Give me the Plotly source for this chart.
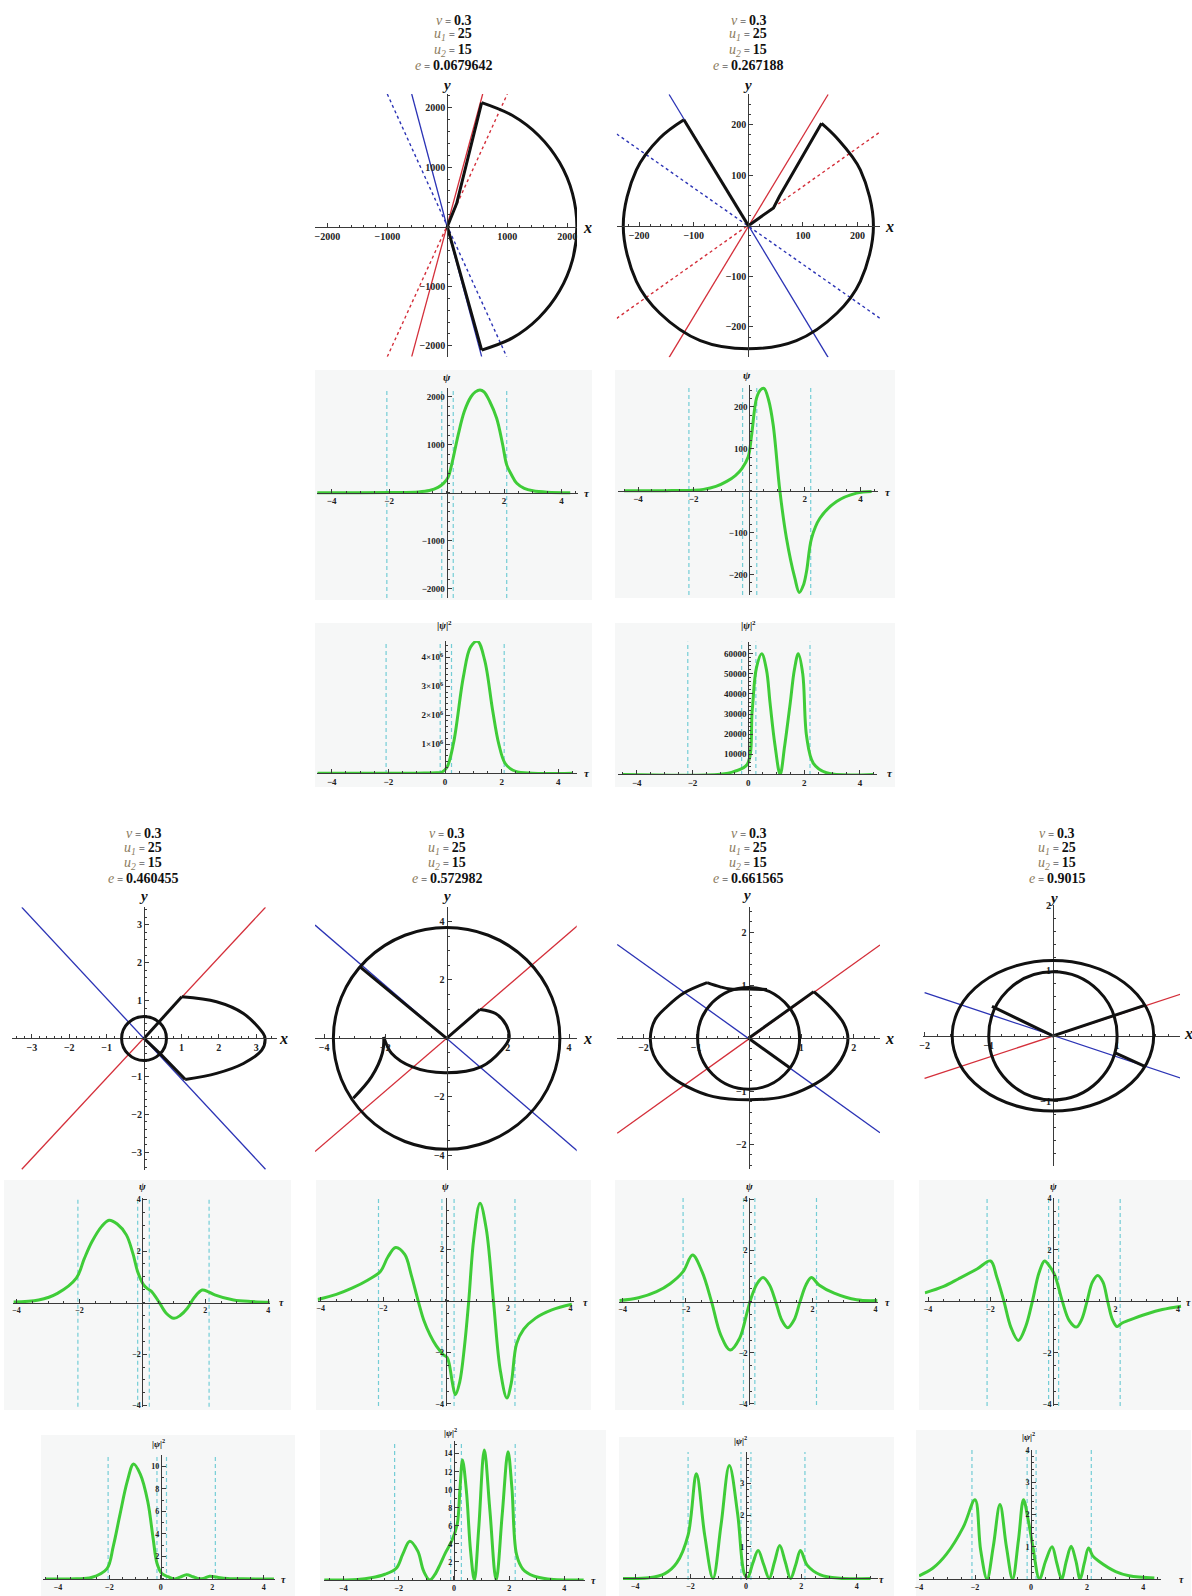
import numpy as np
import plotly.graph_objects as go

W, H = 1192, 1596
SERIF = "Liberation Serif"
RED, BLUE, BLACK = "#d42f3a", "#2b33b5", "#111111"
GREEN, CYAN, AX, LBL = "#3fcc38", "#74cdd6", "#3a3a3a", "#8b7b5e"

# ---------------- parameters ----------------
v_val, u1_val, u2_val = "0.3", "25", "15"
e_vals = ["0.0679642", "0.267188", "0.460455", "0.572982", "0.661565", "0.9015"]

# ---------------- phase portraits ----------------
# case 1  e=0.0679642
c1_red = ([-593, 590], [-2181, 2227])
c1_blue = ([-593, 573], [2227, -2181])
c1_red_dot = ([-1000, 1000], [-2181, 2226])
c1_blue_dot = ([-1000, 990], [2226, -2181])
c1_seg_x = [573, 0, 157, 573]
c1_seg_y = [-2070, 0, 392, 2083]
c1_arc_x = [573, 1080, 1527, 1870, 2086, 2160, 2086, 1870, 1527, 1080, 573]
c1_arc_y = [2083, 1870, 1527, 1080, 560, 0, -560, -1080, -1527, -1870, -2070]

# case 2  e=0.267188
c2_red = ([-145, 146], [-260, 259])
c2_blue = ([-145, 146], [259, -260])
c2_red_dot = ([-241, 241], [-183, 185])
c2_blue_dot = ([-241, 241], [181, -183])
c2_seg1_x, c2_seg1_y = [-118, 0], [209, 0]
c2_seg2_x, c2_seg2_y = [0, 46, 57, 134], [0, 35, 58, 202]
c2_arc_x = [-118, -162, -205, -229, -205, -162, -88, 0, 88, 162, 205, 229, 205, 162, 134]
c2_arc_y = [209, 173, 110, 0, -110, -173, -227, -243, -227, -173, -110, 0, 110, 173, 202]

# case 3  e=0.460455
c3_red = ([-3.27, 3.25], [-3.45, 3.46])
c3_blue = ([-3.27, 3.25], [3.46, -3.45])
c3_circle = (0.60, 0.58)
c3_seg1_x, c3_seg1_y = [0, 1.01], [0, 1.10]
c3_seg2_x, c3_seg2_y = [0, 0.45, 1.1], [0, -0.42, -1.08]
c3_arc_x = [1.01, 1.94, 2.66, 3.19, 3.24, 3.15, 2.66, 1.94, 1.1]
c3_arc_y = [1.10, 0.97, 0.66, 0.13, 0, -0.31, -0.66, -0.92, -1.08]

# case 4  e=0.572982
c4_red = ([-4.3, 4.3], [-3.88, 3.88])
c4_blue = ([-4.3, 4.3], [3.88, -3.88])
c4_circle = (3.7, 3.8)
c4_seg_x, c4_seg_y = [-2.83, 0, 1.09], [2.45, 0, 0.99]
c4_arc_x = [1.09, 1.6, 1.95, 2.04, 1.8, 1.14, -0.05, -1.14, -1.8, -2.02, -2.05]
c4_arc_y = [0.99, 0.85, 0.45, 0, -0.4, -0.97, -1.18, -0.97, -0.51, -0.06, 0.05]
c4_tail_x = [-2.05, -2.1, -2.45, -3.05]
c4_tail_y = [0.05, -0.51, -1.31, -2.05]

# case 5  e=0.661565
c5_red = ([-2.5, 2.5], [-1.79, 1.76])
c5_blue = ([-2.5, 2.5], [1.77, -1.78])
c5_circle = (0.97, 0.96)
c5_seg1_x, c5_seg1_y = [0, 1.24], [0, 0.88]
c5_seg2_x, c5_seg2_y = [0, 0.79], [0, -0.56]
c5_outer_x = [1.24, 1.55, 1.81, 1.89, 1.81, 1.55, 1.17, 0.67, 0, -0.67, -1.17, -1.55, -1.81, -1.87, -1.78, -1.55, -1.24, -0.79]
c5_outer_y = [0.88, 0.6, 0.28, 0, -0.31, -0.66, -0.91, -1.1, -1.16, -1.1, -0.91, -0.66, -0.31, 0, 0.35, 0.6, 0.85, 1.05]
c5_top_x = [-0.79, -0.54, -0.35, 0, 0.35]
c5_top_y = [1.05, 0.97, 0.93, 0.93, 0.92]

# case 6  e=0.9015
c6_red = ([-2.0, 2.0], [-0.65, 0.64])
c6_blue = ([-2.0, 2.0], [0.66, -0.65])
c6_outer = (1.57, 1.15)
c6_inner = (1.0, 0.98)
c6_seg1_x, c6_seg1_y = [-0.95, 0, 1.44], [0.45, 0, 0.47]
c6_seg2_x, c6_seg2_y = [0.97, 1.44], [-0.26, -0.47]

# ---------------- psi(tau) ----------------
t1 = [-4.5, -3, -2, -1.5, -1, -0.6, -0.3, -0.1, 0.05, 0.2, 0.4, 0.62, 0.85, 1.0, 1.16, 1.3, 1.5, 1.74, 1.95, 2.09, 2.25, 2.44, 2.7, 3.0, 3.5, 4.3]
psi1 = [0, 0, 2, 5, 15, 45, 110, 200, 320, 650, 1200, 1700, 2000, 2100, 2140, 2100, 1900, 1550, 1000, 580, 380, 195, 90, 40, 10, 0]
t2 = [-4.5, -3, -2, -1.65, -1.2, -0.81, -0.5, -0.27, -0.04, 0.08, 0.26, 0.4, 0.53, 0.7, 0.86, 1.1, 1.34, 1.64, 1.8, 1.95, 2.06, 2.24, 2.54, 3.14, 3.86, 4.4]
psi2 = [0, 0, 1, 3, 10, 22, 36, 52, 80, 130, 220, 240, 244, 215, 157, 0, -114, -209, -243, -225, -193, -114, -66, -26, -6, -2]
tA = [-4.1, -3.3, -2.7, -2.1, -1.85, -1.6, -1.3, -1.06, -0.8, -0.51, -0.3, -0.15, 0.04, 0.15, 0.28, 0.52, 0.75, 1.0, 1.2, 1.43, 1.65, 1.9, 2.1, 2.3, 2.9, 3.5, 4.05]
psiA = [0.02, 0.1, 0.36, 0.95, 1.7, 2.37, 2.95, 3.2, 3.05, 2.63, 1.9, 1.2, 0.69, 0.55, 0.45, 0.04, -0.4, -0.61, -0.5, -0.22, 0.2, 0.49, 0.42, 0.3, 0.1, 0.04, 0.01]
tB = [-4.1, -3.5, -3.0, -2.5, -2.09, -1.85, -1.6, -1.31, -1.1, -0.88, -0.7, -0.5, -0.3, -0.07, 0.05, 0.12, 0.22, 0.31, 0.45, 0.6, 0.74, 0.9, 1.1, 1.3, 1.53, 1.75, 1.96, 2.1, 2.27, 2.5, 2.88, 3.4, 4.04]
psiB = [0.05, 0.25, 0.49, 0.8, 1.14, 1.7, 2.07, 1.8, 1.0, 0, -0.75, -1.32, -1.75, -2.09, -2.2, -2.48, -3.2, -3.64, -3.15, -1.8, 0, 2.4, 3.79, 2.8, 0, -2.7, -3.77, -3.2, -1.67, -1.1, -0.67, -0.35, -0.13]
tC = [-4.1, -3.5, -2.93, -2.5, -2.09, -1.79, -1.49, -1.19, -0.9, -0.6, -0.3, -0.06, 0.06, 0.25, 0.44, 0.64, 0.84, 1.03, 1.22, 1.42, 1.61, 1.8, 1.97, 2.21, 2.69, 3.4, 4.06]
psiC = [0.04, 0.15, 0.39, 0.7, 1.17, 1.82, 1.17, 0, -1.3, -1.89, -1.43, -0.39, 0.13, 0.7, 0.94, 0.66, 0, -0.72, -1.02, -0.72, 0, 0.66, 0.94, 0.65, 0.33, 0.07, 0.04]
tD = [-4.1, -3.5, -3.02, -2.42, -2.0, -1.8, -1.57, -1.35, -1.11, -0.88, -0.66, -0.45, -0.27, -0.1, 0.06, 0.3, 0.52, 0.75, 0.92, 1.09, 1.26, 1.43, 1.6, 1.75, 1.9, 2.05, 2.2, 2.42, 3.02, 3.5, 4.1]
psiD = [0.33, 0.58, 0.88, 1.27, 1.57, 0.95, 0, -1.0, -1.52, -1.0, 0, 1.1, 1.57, 1.35, 1.01, 0, -0.75, -1.0, -0.7, 0, 0.75, 1.01, 0.75, 0, -0.7, -0.98, -0.85, -0.74, -0.48, -0.32, -0.19]

# ---------------- |psi|^2(tau) ----------------
s1_t = [-4.5, -1, -0.3, -0.1, 0.07, 0.3, 0.65, 0.9, 1.15, 1.4, 1.68, 1.9, 2.12, 2.4, 2.8, 4.5]
s1_v = [0, 0, 0.01e6, 0.04e6, 0.2e6, 1.03e6, 3.33e6, 4.35e6, 4.55e6, 3.9e6, 2.18e6, 1.0e6, 0.34e6, 0.1e6, 0.01e6, 0]
s2_t = [-4.5, -1, -0.5, -0.04, 0.14, 0.29, 0.48, 0.65, 0.78, 0.95, 1.14, 1.3, 1.5, 1.65, 1.79, 1.95, 2.09, 2.33, 2.8, 4.5]
s2_v = [0, 100, 1500, 5000, 32000, 53000, 60000, 52000, 35300, 15000, 0, 14000, 35300, 52000, 60000, 50000, 18700, 5500, 800, 0]
sA_t = [-4.5, -3.3, -2.7, -2.1, -1.85, -1.6, -1.3, -1.06, -0.8, -0.51, -0.3, -0.15, 0.04, 0.28, 0.52, 0.75, 1.0, 1.25, 1.43, 1.65, 1.9, 2.2, 2.6, 3.2, 4.4]
sA_v = [0, 0.01, 0.13, 0.9, 2.9, 5.6, 8.7, 10.2, 9.3, 6.9, 3.6, 1.4, 0.48, 0.2, 0, 0.16, 0.37, 0.2, 0.05, 0.04, 0.25, 0.15, 0.05, 0.01, 0]
sB_t = [-4.7, -3.5, -3.0, -2.5, -2.09, -1.85, -1.6, -1.31, -1.1, -0.88, -0.7, -0.5, -0.3, -0.07, 0.12, 0.22, 0.31, 0.45, 0.6, 0.74, 0.9, 1.1, 1.3, 1.53, 1.75, 1.96, 2.1, 2.27, 2.5, 2.88, 3.4, 4.7]
sB_v = [0, 0.06, 0.24, 0.64, 1.3, 2.9, 4.3, 3.2, 1.0, 0, 0.56, 1.74, 3.06, 4.4, 6.2, 10.2, 13.3, 9.9, 3.3, 0, 5.8, 14.4, 7.8, 0, 7.3, 14.2, 10.2, 2.8, 1.2, 0.45, 0.12, 0]
sC_t = [-4.5, -3.5, -2.93, -2.5, -2.09, -1.79, -1.49, -1.19, -0.9, -0.6, -0.3, -0.06, 0.06, 0.25, 0.44, 0.64, 0.84, 1.03, 1.22, 1.42, 1.61, 1.8, 1.97, 2.21, 2.69, 3.4, 4.5]
sC_v = [0, 0.02, 0.15, 0.49, 1.37, 3.31, 1.37, 0, 1.69, 3.57, 2.04, 0.15, 0.02, 0.49, 0.88, 0.44, 0, 0.52, 1.04, 0.52, 0, 0.44, 0.88, 0.42, 0.11, 0.005, 0]
sD_t = [-4.0, -3.5, -3.02, -2.42, -2.0, -1.8, -1.57, -1.35, -1.11, -0.88, -0.66, -0.45, -0.27, -0.1, 0.06, 0.3, 0.52, 0.75, 0.92, 1.09, 1.26, 1.43, 1.6, 1.75, 1.9, 2.05, 2.2, 2.42, 3.02, 3.5, 4.4]
sD_v = [0.1, 0.34, 0.77, 1.61, 2.46, 0.9, 0, 1.0, 2.31, 1.0, 0, 1.21, 2.46, 1.82, 1.02, 0, 0.56, 1.0, 0.49, 0, 0.56, 1.02, 0.56, 0, 0.49, 0.96, 0.72, 0.55, 0.23, 0.1, 0.03]

# dashed reference lines (tau)
dash1 = [-2.08, -0.17, 0.23, 2.09]
dash2 = [-2.17, -0.24, 0.27, 2.21]
dashA = [-2.05, -0.15, 0.22, 2.12]
dashB = [-2.15, -0.12, 0.27, 2.22]
dashC = [-2.09, -0.18, 0.18, 2.13]
dashD = [-2.11, -0.14, 0.18, 2.15]

# ---------------- figure machinery ----------------
layout = dict(width=W, height=H, autosize=False, margin=dict(l=0, r=0, t=0, b=0),
              paper_bgcolor="white", plot_bgcolor="rgba(0,0,0,0)", showlegend=False,
              shapes=[], annotations=[])
traces = []


def tl(vals):
    out = []
    for v in vals:
        s = str(int(v)) if float(v).is_integer() else str(v)
        out.append(s.replace("-", "\u2212"))
    return out


def minor_vals(r, step):
    a = np.arange(np.ceil(r[0] / step) * step, r[1] + 1e-9, step)
    return [round(float(x), 6) for x in a]


def panel(n, xpx, ypx, xr, yr, xt, yt, xm, ym, fs=10, xtt=None, ytt=None):
    xd = [xpx[0] / W, xpx[1] / W]
    yd = [1 - ypx[1] / H, 1 - ypx[0] / H]
    xpos = yd[0] + (0 - yr[0]) / (yr[1] - yr[0]) * (yd[1] - yd[0])
    ypos = xd[0] + (0 - xr[0]) / (xr[1] - xr[0]) * (xd[1] - xd[0])
    sfx = "" if n == 1 else str(n)
    tf = dict(family=SERIF, size=fs, color="#222", weight="bold")
    common = dict(showgrid=False, zeroline=False, showline=True, linecolor=AX, linewidth=1,
                  ticks="inside", ticklen=4, tickwidth=1, tickcolor=AX, tickmode="array",
                  tickfont=tf, anchor="free", fixedrange=True, automargin=False)
    layout["xaxis" + sfx] = dict(common, domain=xd, range=xr, position=xpos, tickvals=xt,
                                 ticktext=xtt or tl(xt),
                                 minor=dict(tickmode="array", tickvals=minor_vals(xr, xm),
                                            ticks="inside", ticklen=2, tickcolor=AX))
    layout["yaxis" + sfx] = dict(common, domain=yd, range=yr, position=ypos, tickvals=yt,
                                 ticktext=ytt or tl(yt),
                                 minor=dict(tickmode="array", tickvals=minor_vals(yr, ym),
                                            ticks="inside", ticklen=2, tickcolor=AX))
    return ("x" + sfx, "y" + sfx)


def line(ax, x, y, color, width, dash=None, spline=False):
    traces.append(go.Scatter(x=x, y=y, xaxis=ax[0], yaxis=ax[1], mode="lines", hoverinfo="skip",
                             line=dict(color=color, width=width, dash=dash,
                                       shape="spline" if spline else "linear", smoothing=1.0)))


def ellipse(ax, r):
    layout["shapes"].append(dict(type="circle", xref=ax[0], yref=ax[1], x0=-r[0], x1=r[0],
                                 y0=-r[1], y1=r[1], line=dict(color=BLACK, width=3)))


def vlines(ax, vals):
    for v in vals:
        layout["shapes"].append(dict(type="line", xref=ax[0], yref=ax[1] + " domain", x0=v, x1=v,
                                     y0=0, y1=1, layer="below",
                                     line=dict(color=CYAN, width=1.2, dash="4px,3px")))


def bg(box):
    layout["shapes"].append(dict(type="rect", xref="paper", yref="paper", layer="below",
                                 x0=box[0] / W, x1=box[2] / W, y0=1 - box[3] / H, y1=1 - box[1] / H,
                                 fillcolor="#f6f7f7", line=dict(width=0)))


def ann(xp, yp, text, size=14, color="#111", xanchor="center"):
    layout["annotations"].append(dict(x=xp / W, y=1 - yp / H, xref="paper", yref="paper", text=text,
                                      showarrow=False, xanchor=xanchor, yanchor="middle",
                                      font=dict(family=SERIF, size=size, color=color)))


def title(cx, ys, e):
    eq = "<span style='font-size:11px'> = </span>"
    lines = [f"<span style='color:{LBL}'><i>v</i></span>{eq}<b>{v_val}</b>",
             f"<span style='color:{LBL}'><i>u<sub>1</sub></i></span>{eq}<b>{u1_val}</b>",
             f"<span style='color:{LBL}'><i>u<sub>2</sub></i></span>{eq}<b>{u2_val}</b>",
             f"<span style='color:{LBL}'><i>e</i></span>{eq}<b>{e}</b>"]
    for y, t in zip(ys, lines):
        ann(cx, y, t, 14)


def phase_lines(ax, red, blue, red_dot=None, blue_dot=None):
    if red_dot:
        line(ax, red_dot[0], red_dot[1], RED, 1.4, "dot")
        line(ax, blue_dot[0], blue_dot[1], BLUE, 1.4, "dot")
    line(ax, red[0], red[1], RED, 1.3)
    line(ax, blue[0], blue[1], BLUE, 1.3)


PSI = "<b><i>\u03c8</i></b>"
PSI2 = "<b>|<i>\u03c8</i>|<sup>2</sup></b>"
TAU = "<b><i>\u03c4</i></b>"

# ---------------- backgrounds ----------------
for box in [(315, 370, 592, 600), (615, 370, 895, 598), (315, 623, 592, 787), (615, 623, 895, 787),
            (4, 1180, 291, 1410), (316, 1180, 591, 1410), (615, 1180, 894, 1410), (919, 1180, 1192, 1410),
            (41, 1435, 295, 1596), (320, 1430, 606, 1596), (619, 1437, 894, 1596), (916, 1430, 1191, 1596)]:
    bg(box)

# ---------------- top row ----------------
top_ys = [20.7, 35, 50.7, 66]
title(453, top_ys, e_vals[0])
title(748, top_ys, e_vals[1])

a1 = panel(1, (315, 577), (94, 356.7), [-2205, 2162], [-2181, 2227],
           [-2000, -1000, 1000, 2000], [-2000, -1000, 1000, 2000], 200, 200, 10)
phase_lines(a1, c1_red, c1_blue, c1_red_dot, c1_blue_dot)
line(a1, c1_seg_x, c1_seg_y, BLACK, 3)
line(a1, c1_arc_x, c1_arc_y, BLACK, 3, spline=True)
ann(446, 85, "<b><i>y</i></b>", 15)
ann(587, 228, "<b><i>x</i></b>", 16)

a2 = panel(2, (616.7, 880), (94, 357.3), [-241, 241], [-260, 260],
           [-200, -100, 100, 200], [-200, -100, 100, 200], 20, 20, 10)
phase_lines(a2, c2_red, c2_blue, c2_red_dot, c2_blue_dot)
line(a2, c2_seg1_x, c2_seg1_y, BLACK, 3)
line(a2, c2_seg2_x, c2_seg2_y, BLACK, 3)
line(a2, c2_arc_x, c2_arc_y, BLACK, 3, spline=True)
ann(747, 85, "<b><i>y</i></b>", 15)
ann(889, 227, "<b><i>x</i></b>", 16)

a3 = panel(3, (316.7, 578), (388, 598), [-4.52, 4.57], [-2194, 2181],
           [-4, -2, 2, 4], [-2000, -1000, 1000, 2000], 0.5, 200, 9)
vlines(a3, dash1)
line(a3, t1, psi1, GREEN, 3, spline=True)
ann(446.7, 377, PSI, 11)
ann(587, 492.7, TAU, 11)

a4 = panel(4, (618, 878), (385, 595), [-4.72, 4.63], [-249, 252],
           [-4, -2, 2, 4], [-200, -100, 100, 200], 0.5, 20, 9)
vlines(a4, dash2)
line(a4, t2, psi2, GREEN, 3, spline=True)
ann(746.7, 375, PSI, 11)
ann(888, 491.7, TAU, 11)

sci = ["1\u00d710<sup>6</sup>", "2\u00d710<sup>6</sup>", "3\u00d710<sup>6</sup>", "4\u00d710<sup>6</sup>"]
a5 = panel(5, (316.7, 576.7), (641, 774), [-4.53, 4.65], [-30000, 4.56e6],
           [-4, -2, 0, 2, 4], [1e6, 2e6, 3e6, 4e6], 0.5, 0.2e6, 9, ytt=sci)
vlines(a5, dash1)
line(a5, s1_t, s1_v, GREEN, 3, spline=True)
ann(445, 625, PSI2, 10)
ann(587, 773, TAU, 11)

a6 = panel(6, (618.3, 876.7), (641.7, 775), [-4.66, 4.6], [-300, 66000],
           [-4, -2, 0, 2, 4], [10000, 20000, 30000, 40000, 50000, 60000], 0.5, 2000, 9)
vlines(a6, dash2)
line(a6, s2_t, s2_v, GREEN, 3, spline=True)
ann(748.3, 625, PSI2, 10)
ann(890, 773, TAU, 11)

# ---------------- bottom block ----------------
bot_ys = [833.3, 848.3, 863.3, 878.3]
title(143.3, bot_ys, e_vals[2])
title(446.7, bot_ys, e_vals[3])
title(748.3, bot_ys, e_vals[4])
title(1056.7, bot_ys, e_vals[5])

a7 = panel(7, (11.7, 276.7), (907.3, 1170), [-3.54, 3.55], [-3.47, 3.46],
           [-3, -2, -1, 1, 2, 3], [-3, -2, -1, 1, 2, 3], 0.2, 0.2, 10)
phase_lines(a7, c3_red, c3_blue)
ellipse(a7, c3_circle)
line(a7, c3_seg1_x, c3_seg1_y, BLACK, 3)
line(a7, c3_seg2_x, c3_seg2_y, BLACK, 3)
line(a7, c3_arc_x, c3_arc_y, BLACK, 3, spline=True)
ann(143, 896, "<b><i>y</i></b>", 15)
ann(283.3, 1038.3, "<b><i>x</i></b>", 16)

a8 = panel(8, (315, 576.7), (907.3, 1170), [-4.3, 4.25], [-4.51, 4.49],
           [-4, -2, 2, 4], [-4, -2, 2, 4], 0.5, 0.5, 10)
phase_lines(a8, c4_red, c4_blue)
ellipse(a8, c4_circle)
line(a8, c4_seg_x, c4_seg_y, BLACK, 3)
line(a8, c4_arc_x, c4_arc_y, BLACK, 3, spline=True)
line(a8, c4_tail_x, c4_tail_y, BLACK, 3, spline=True)
ann(446.7, 896, "<b><i>y</i></b>", 15)
ann(587.7, 1038.3, "<b><i>x</i></b>", 16)

a9 = panel(9, (616.7, 880), (907.3, 1169.3), [-2.51, 2.5], [-2.47, 2.47],
           [-2, -1, 1, 2], [-2, -1, 1, 2], 0.2, 0.2, 10)
phase_lines(a9, c5_red, c5_blue)
ellipse(a9, c5_circle)
line(a9, c5_seg1_x, c5_seg1_y, BLACK, 3)
line(a9, c5_seg2_x, c5_seg2_y, BLACK, 3)
line(a9, c5_outer_x, c5_outer_y, BLACK, 3, spline=True)
line(a9, c5_top_x, c5_top_y, BLACK, 3, spline=True)
ann(746.7, 895, "<b><i>y</i></b>", 15)
ann(890, 1038.3, "<b><i>x</i></b>", 16)

a10 = panel(10, (923.3, 1180), (905, 1166), [-2.02, 1.98], [-1.99, 2.0],
            [-2, -1, 1, 2], [-2, -1, 1, 2], 0.2, 0.2, 10)
phase_lines(a10, c6_red, c6_blue)
ellipse(a10, c6_outer)
ellipse(a10, c6_inner)
line(a10, c6_seg1_x, c6_seg1_y, BLACK, 3)
line(a10, c6_seg2_x, c6_seg2_y, BLACK, 3)
ann(1053.3, 898, "<b><i>y</i></b>", 15)
ann(1188, 1033.3, "<b><i>x</i></b>", 16)

psi_ticks = [-4, -2, 2, 4]
bottom_psi = [
    (11, (13.4, 269.8), (1198.3, 1406.7), [-4.1, 4.05], [-4.04, 4.05], tA, psiA, dashA, 142.4, 281.3),
    (12, (317.6, 574), (1198, 1406), [-4.1, 4.11], [-4.08, 3.99], tB, psiB, dashB, 445.8, 585.5),
    (13, (618.9, 877.5), (1198, 1405), [-4.12, 4.06], [-4.04, 4.05], tC, psiC, dashC, 749, 887),
    (14, (924.6, 1181.4), (1198, 1406), [-4.11, 4.11], [-4.07, 4.02], tD, psiD, dashD, 1053, 1188),
]
for n, xpx, ypx, xr, yr, tt, pp, dl, yx, tx in bottom_psi:
    ax = panel(n, xpx, ypx, xr, yr, psi_ticks, psi_ticks, 0.5, 0.5, 8)
    vlines(ax, dl)
    line(ax, tt, pp, GREEN, 3, spline=True)
    ann(yx, 1186, PSI, 10)
    ann(tx, 1302, TAU, 10)

bottom_sq = [
    (15, (42.8, 275), (1455, 1580), [-4.59, 4.44], [-0.09, 11], [2, 4, 6, 8, 10], 1, sA_t, sA_v, dashA, 158, 1443, 283),
    (16, (323.7, 585.3), (1441, 1581), [-4.72, 4.76], [-0.11, 15.4], [2, 4, 6, 8, 10, 12, 14], 1, sB_t, sB_v, dashB, 450, 1432, 593.5),
    (17, (623, 877.5), (1452, 1580), [-4.44, 4.75], [-0.05, 4.0], [1, 2, 3], 0.2, sC_t, sC_v, dashC, 741, 1440, 881.6),
    (18, (919, 1160.5), (1450, 1580), [-4.0, 4.62], [-0.03, 4.0], [1, 2, 3, 4], 0.2, sD_t, sD_v, dashD, 1028, 1436, 1181),
]
for n, xpx, ypx, xr, yr, yt, ym, tt, vv, dl, lx, ly, tx in bottom_sq:
    ax = panel(n, xpx, ypx, xr, yr, [-4, -2, 0, 2, 4], yt, 0.5, ym, 8)
    vlines(ax, dl)
    line(ax, tt, vv, GREEN, 3, spline=True)
    ann(lx, ly, PSI2, 9)
    ann(tx, ypx[1] - 1, TAU, 10)

fig = go.Figure(data=traces, layout=layout)
fig.write_html("out.html")
